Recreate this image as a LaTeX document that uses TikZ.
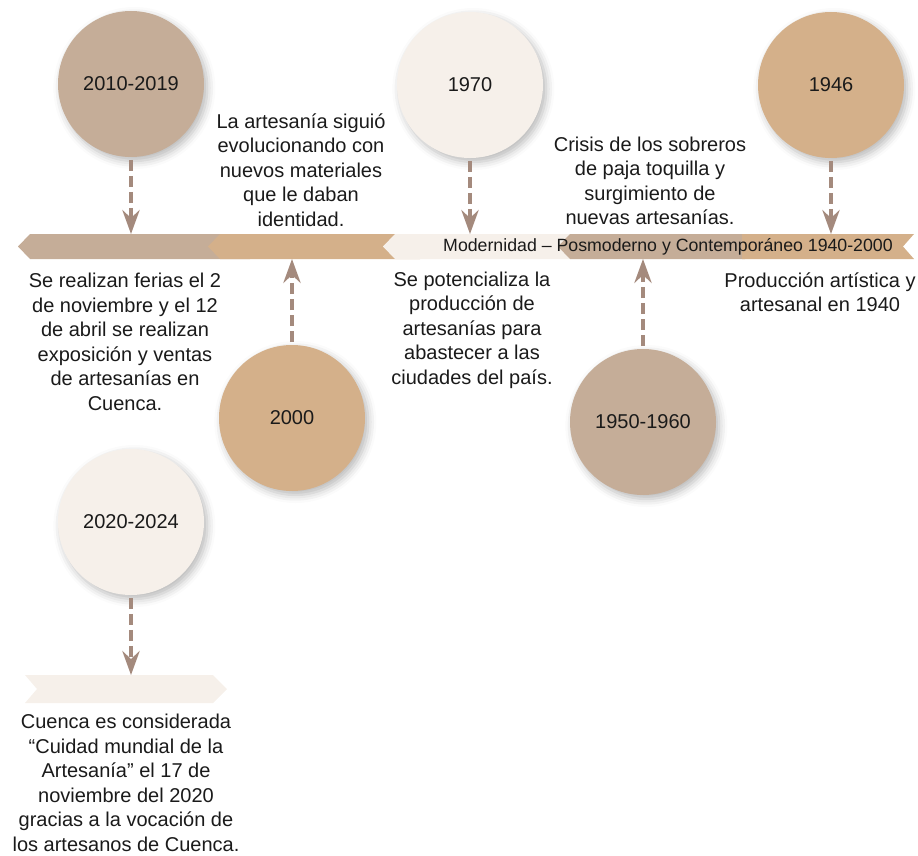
\documentclass[tikz,border=0pt]{standalone}
\usepackage{fontspec}
\setmainfont{Liberation Sans}
\usetikzlibrary{arrows.meta,shadows.blur}
\definecolor{taupe}{HTML}{C5AD98}
\definecolor{tan}{HTML}{D4B08A}
\definecolor{cream}{HTML}{F6F0EA}
\definecolor{arrowc}{HTML}{A48A7D}
\definecolor{ink}{HTML}{1A1A1A}

\begin{document}
\begin{tikzpicture}[x=0.75pt,y=-0.75pt,
  year/.style={circle, minimum size=109.5pt, inner sep=0pt, text=ink,
    font=\fontsize{15}{18}\selectfont,
    blur shadow={shadow xshift=2.5pt, shadow yshift=-3pt, shadow opacity=28, shadow blur radius=6pt}},
  note/.style={align=center, text=ink, font=\fontsize{15}{18.4}\selectfont, inner sep=0pt},
  link/.style={draw=arrowc, line width=2.4pt, dash pattern=on 8pt off 4pt,
    shorten <=2pt, -{Stealth[length=18pt,width=13pt,inset=6pt]}},
]
\useasboundingbox (0,0) rectangle (918,856);

% main timeline band, built from overlapping chevrons
\fill[taupe] (30,234) -- (250,234) -- (250,259) -- (30,259) -- (18,246.5) -- cycle;
\fill[tan]   (220,234) -- (420,234) -- (420,259) -- (220,259) -- (208,246.5) -- cycle;
\fill[cream] (395,234) -- (600,234) -- (600,259) -- (395,259) -- (383,246.5) -- cycle;
\fill[taupe] (570,234) -- (745,234) -- (745,259) -- (570,259) -- (558,246.5) -- cycle;
\fill[tan]   (742,234) -- (914,234) -- (903,246.5) -- (914,259) -- (742,259) -- cycle;
\node[font=\fontsize{13.3}{16}\selectfont, text=ink, inner sep=0pt] (era) at (668,246.5)
  {Modernidad – Posmoderno y Contemporáneo 1940-2000};

% lower band
\fill[cream] (25,675) -- (213,675) -- (227,689) -- (213,703) -- (25,703) -- (37,689) -- cycle;

% year circles
\node[year, fill=taupe] (c2010) at (131,84) {2010-2019};
\node[year, fill=cream] (c1970) at (470,85) {1970};
\node[year, fill=tan]   (c1946) at (831,85) {1946};
\node[year, fill=tan]   (c2000) at (292,418) {2000};
\node[year, fill=taupe] (c1950) at (643,422) {1950-1960};
\node[year, fill=cream] (c2020) at (131,522) {2020-2024};

% arrow end points on the bands
\coordinate (b2010) at (131,234);
\coordinate (b1970) at (470,234);
\coordinate (b1946) at (831,234);
\coordinate (b2000) at (292,259);
\coordinate (b1950) at (643,259);
\coordinate (b2020) at (131,675);

\draw[link] (c2010.south) -- (b2010);
\draw[link] (c1970.south) -- (b1970);
\draw[link] (c1946.south) -- (b1946);
\draw[link] (c2000.north) -- (b2000);
\draw[link] (c1950.north) -- (b1950);
\draw[link] (c2020.south) -- (b2020);

% descriptions
\node[note] (t2000) at (301,170) {La artesanía siguió\\evolucionando con\\nuevos materiales\\que le daban\\identidad.};
\node[note] (t1950) at (650,181) {Crisis de los sobreros\\de paja toquilla y\\surgimiento de\\nuevas artesanías.};
\node[note] (t2010) at (125,342) {Se realizan ferias el 2\\de noviembre y el 12\\de abril se realizan\\exposición y ventas\\de artesanías en\\Cuenca.};
\node[note] (t1970) at (472,330) {Se potencializa la\\producción de\\artesanías para\\abastecer a las\\ciudades del país.};
\node[note] (t1946) at (820,292) {Producción artística y\\artesanal en 1940};
\node[note] (t2020) at (126,783) {Cuenca es considerada\\“Cuidad mundial de la\\Artesanía” el 17 de\\noviembre del 2020\\gracias a la vocación de\\los artesanos de Cuenca.};
\end{tikzpicture}
\end{document}
